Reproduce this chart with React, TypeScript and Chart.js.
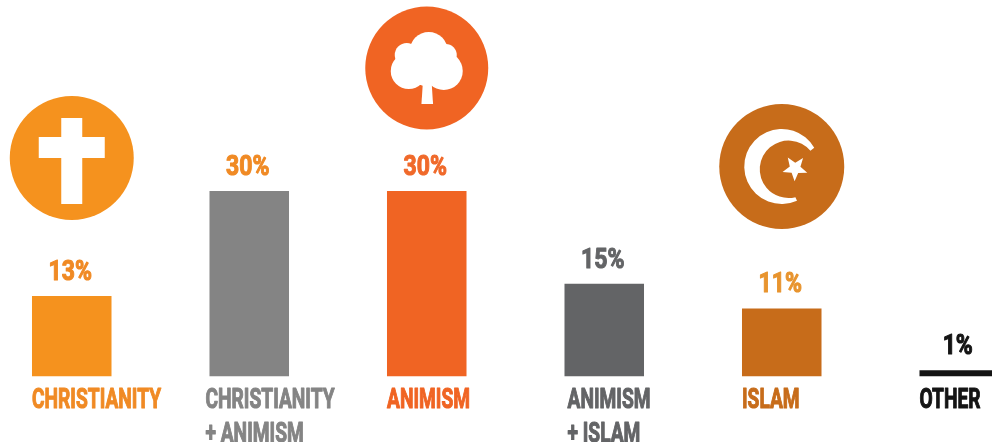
import React, { useEffect, useRef } from "react";
import { Chart, registerables } from "chart.js";

Chart.register(...registerables);

const categories = [
  ["CHRISTIANITY"],
  ["CHRISTIANITY", "+ ANIMISM"],
  ["ANIMISM"],
  ["ANIMISM", "+ ISLAM"],
  ["ISLAM"],
  ["OTHER"],
];
const values = [13, 30, 30, 15, 11, 1];
const barColors = ["#F5921E", "#848484", "#F06423", "#636466", "#C76C1A", "#141414"];
const nameColors = ["#F08A24", "#848484", "#F06423", "#636466", "#C76C1A", "#141414"];
const valueColors = ["#F08A24", "#F08A24", "#F0692A", "#636466", "#E8942E", "#141414"];
const nameShift = [0, -4, 0, 3, 0, 0];

const FONT = 'Roboto, "Liberation Sans", sans-serif';

function cross(ctx: CanvasRenderingContext2D, x: number, y: number) {
  ctx.fillStyle = "#fff";
  ctx.fillRect(x - 10.5, y - 40, 21, 86);
  ctx.fillRect(x - 33, y - 21, 66, 21);
}

function tree(ctx: CanvasRenderingContext2D, x: number, y: number) {
  ctx.fillStyle = "#fff";
  const lobes = [
    [2, -17, 19],
    [-20, -13, 12],
    [-18, 3, 18],
    [17, 3, 19],
    [19, -13, 11],
    [0, -2, 20],
  ];
  for (const [dx, dy, r] of lobes) {
    ctx.beginPath();
    ctx.arc(x + dx, y + dy, r, 0, Math.PI * 2);
    ctx.fill();
  }
  ctx.beginPath();
  ctx.moveTo(x - 3.7, y + 12);
  ctx.lineTo(x + 4.7, y + 12);
  ctx.lineTo(x + 6.3, y + 36);
  ctx.lineTo(x - 5.3, y + 36);
  ctx.closePath();
  ctx.fill();
}

function crescent(ctx: CanvasRenderingContext2D, x: number, y: number) {
  ctx.fillStyle = "#fff";
  const d = Math.PI / 180;
  ctx.beginPath();
  ctx.arc(x, y, 37.5, 66 * d, 330 * d, false);
  ctx.arc(x + 6.7, y + 2.8, 28.7, -40 * d, 76 * d - Math.PI * 2, true);
  ctx.closePath();
  ctx.fill();
  const sx = x + 13.3;
  const sy = y + 1.8;
  ctx.beginPath();
  for (let i = 0; i < 10; i++) {
    const a = (-52 + i * 36) * d;
    const r = i % 2 === 0 ? 13 : 5.6;
    ctx.lineTo(sx + r * Math.cos(a), sy + r * Math.sin(a));
  }
  ctx.closePath();
  ctx.fill();
}

const icons = [
  { index: 0, cy: 158, r: 62, draw: cross },
  { index: 2, cy: 68, r: 61.5, draw: tree },
  { index: 4, cy: 166.5, r: 62.5, draw: crescent },
];

function squeezed(ctx: CanvasRenderingContext2D, text: string, x: number, y: number, sx: number) {
  ctx.save();
  ctx.translate(x, y);
  ctx.scale(sx, 1);
  ctx.strokeStyle = ctx.fillStyle;
  ctx.lineWidth = 1.1;
  ctx.lineJoin = "round";
  ctx.strokeText(text, 0, 0);
  ctx.fillText(text, 0, 0);
  ctx.restore();
}

const decor = {
  id: "decor",
  afterDatasetsDraw(chart: any) {
    const { ctx } = chart;
    const bars = chart.getDatasetMeta(0).data;
    const xs = chart.scales.x;
    ctx.save();
    ctx.textBaseline = "alphabetic";
    ctx.font = `bold 28px ${FONT}`;
    ctx.textAlign = "center";
    bars.forEach((b: any, i: number) => {
      ctx.fillStyle = valueColors[i];
      squeezed(ctx, `${values[i]}%`, b.x - 1.5, b.y - 16, 0.82);
    });
    ctx.textAlign = "left";
    bars.forEach((b: any, i: number) => {
      ctx.fillStyle = nameColors[i];
      const left = xs.getPixelForTick(i) - b.width / 2 + nameShift[i];
      categories[i].forEach((line, k) => {
        squeezed(ctx, line, left, xs.top + 31.5 + k * 34, 0.685);
      });
    });
    for (const ic of icons) {
      const x = bars[ic.index].x;
      ctx.fillStyle = barColors[ic.index];
      ctx.beginPath();
      ctx.arc(x, ic.cy, ic.r, 0, Math.PI * 2);
      ctx.fill();
      ic.draw(ctx, x, ic.cy);
    }
    ctx.restore();
  },
};

export default function App() {
  const ref = useRef<HTMLCanvasElement>(null);
  useEffect(() => {
    const chart = new Chart(ref.current!, {
      type: "bar",
      data: {
        labels: categories as any,
        datasets: [
          {
            data: values,
            backgroundColor: barColors,
            barPercentage: 0.448,
            categoryPercentage: 1,
          },
        ],
      },
      options: {
        animation: false,
        responsive: false,
        layout: { padding: { top: 5.5 } },
        plugins: { legend: { display: false }, tooltip: { enabled: false } },
        scales: {
          x: {
            grid: { display: false },
            border: { display: false },
            afterFit(scale: any) {
              scale.height = 65.5;
              scale.paddingLeft = 0;
              scale.paddingRight = 0;
            },
            ticks: { display: false, autoSkip: false },
          },
          y: { display: false, min: 0, max: 60 },
        },
      },
      plugins: [decor],
    } as any);
    return () => chart.destroy();
  }, []);
  return (
    <div style={{ position: "fixed", left: 0, top: 0, width: 992, height: 442, overflow: "hidden", background: "#fff" }}>
      <canvas ref={ref} width={1065} height={442} style={{ position: "absolute", left: -17, top: 0, width: 1065, height: 442 }} />
    </div>
  );
}
